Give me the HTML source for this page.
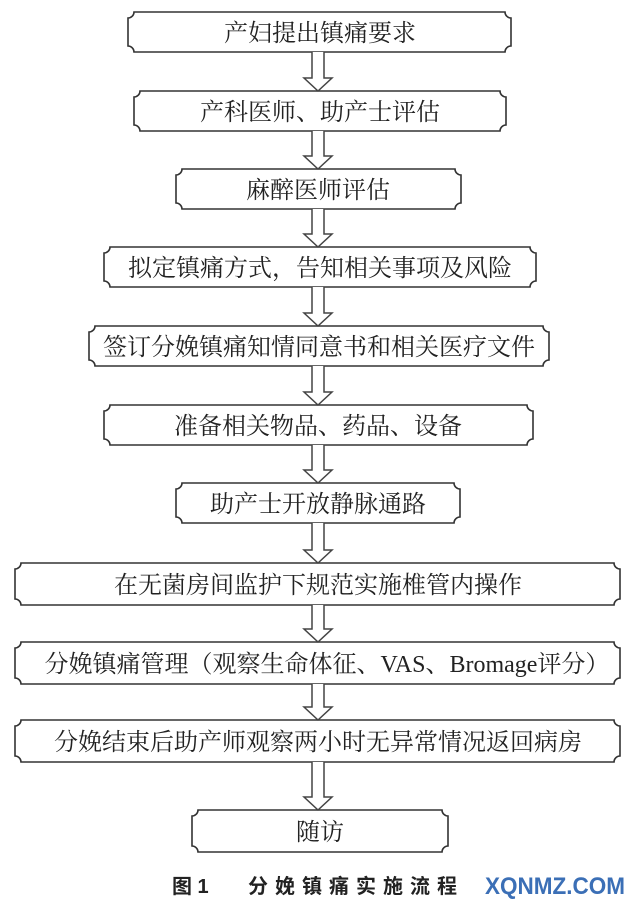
<!DOCTYPE html>
<html><head><meta charset="utf-8"><style>
html,body{margin:0;padding:0;background:#fff;}
svg{display:block}
.t{font-family:"Liberation Serif","Noto Serif CJK SC",serif;font-size:24px;fill:#222;text-anchor:middle;}
</style></head><body>
<svg width="637" height="907" viewBox="0 0 637 907" xmlns="http://www.w3.org/2000/svg">
<g fill="none" stroke="#333" stroke-width="1.6">
<path d="M134,12 H505 A6,6 0 0 0 511,18 V46 A6,6 0 0 0 505,52 H134 A6,6 0 0 0 128,46 V18 A6,6 0 0 0 134,12Z"/>
<path d="M140,91 H500 A6,6 0 0 0 506,97 V125 A6,6 0 0 0 500,131 H140 A6,6 0 0 0 134,125 V97 A6,6 0 0 0 140,91Z"/>
<path d="M182,169 H455 A6,6 0 0 0 461,175 V203 A6,6 0 0 0 455,209 H182 A6,6 0 0 0 176,203 V175 A6,6 0 0 0 182,169Z"/>
<path d="M110,247 H530 A6,6 0 0 0 536,253 V281 A6,6 0 0 0 530,287 H110 A6,6 0 0 0 104,281 V253 A6,6 0 0 0 110,247Z"/>
<path d="M95,326 H543 A6,6 0 0 0 549,332 V360 A6,6 0 0 0 543,366 H95 A6,6 0 0 0 89,360 V332 A6,6 0 0 0 95,326Z"/>
<path d="M110,405 H527 A6,6 0 0 0 533,411 V439 A6,6 0 0 0 527,445 H110 A6,6 0 0 0 104,439 V411 A6,6 0 0 0 110,405Z"/>
<path d="M182,483 H454 A6,6 0 0 0 460,489 V517 A6,6 0 0 0 454,523 H182 A6,6 0 0 0 176,517 V489 A6,6 0 0 0 182,483Z"/>
<path d="M21,563 H614 A6,6 0 0 0 620,569 V599 A6,6 0 0 0 614,605 H21 A6,6 0 0 0 15,599 V569 A6,6 0 0 0 21,563Z"/>
<path d="M21,642 H614 A6,6 0 0 0 620,648 V678 A6,6 0 0 0 614,684 H21 A6,6 0 0 0 15,678 V648 A6,6 0 0 0 21,642Z"/>
<path d="M21,720 H614 A6,6 0 0 0 620,726 V756 A6,6 0 0 0 614,762 H21 A6,6 0 0 0 15,756 V726 A6,6 0 0 0 21,720Z"/>
<path d="M198,810 H442 A6,6 0 0 0 448,816 V846 A6,6 0 0 0 442,852 H198 A6,6 0 0 0 192,846 V816 A6,6 0 0 0 198,810Z"/>
</g>
<g fill="#fff" stroke="#444" stroke-width="1.5">
<path d="M312,52 V78 H304 L318,91 L332,78 H324 V52"/>
<path d="M312,131 V156 H304 L318,169 L332,156 H324 V131"/>
<path d="M312,209 V234 H304 L318,247 L332,234 H324 V209"/>
<path d="M312,287 V313 H304 L318,326 L332,313 H324 V287"/>
<path d="M312,366 V392 H304 L318,405 L332,392 H324 V366"/>
<path d="M312,445 V470 H304 L318,483 L332,470 H324 V445"/>
<path d="M312,523 V550 H304 L318,563 L332,550 H324 V523"/>
<path d="M312,605 V629 H304 L318,642 L332,629 H324 V605"/>
<path d="M312,684 V707 H304 L318,720 L332,707 H324 V684"/>
<path d="M312,762 V797 H304 L318,810 L332,797 H324 V762"/>
</g>
<text class="t" x="320" y="41">产妇提出镇痛要求</text>
<text class="t" x="320" y="120">产科医师、助产士评估</text>
<text class="t" x="318" y="198">麻醉医师评估</text>
<text class="t" x="320" y="276">拟定镇痛方式，告知相关事项及风险</text>
<text class="t" x="319" y="355">签订分娩镇痛知情同意书和相关医疗文件</text>
<text class="t" x="318" y="434">准备相关物品、药品、设备</text>
<text class="t" x="318" y="512">助产士开放静脉通路</text>
<text class="t" x="318" y="593">在无菌房间监护下规范实施椎管内操作</text>
<text class="t" x="327" y="672">分娩镇痛管理（观察生命体征、VAS、Bromage评分）</text>
<text class="t" x="318" y="750">分娩结束后助产师观察两小时无异常情况返回病房</text>
<text class="t" x="320" y="840">随访</text>
<text x="172" y="893" style="font-family:'Liberation Sans','Noto Sans CJK SC',sans-serif;font-size:20px;font-weight:bold;fill:#222">图 1</text>
<text x="248" y="893" style="font-family:'Liberation Sans','Noto Sans CJK SC',sans-serif;font-size:20px;font-weight:bold;fill:#222;letter-spacing:7px">分娩镇痛实施流程</text>
<text x="485" y="894" style="font-family:'Liberation Sans',sans-serif;font-size:24px;font-weight:bold;fill:#3b6fb6" textLength="140" lengthAdjust="spacingAndGlyphs">XQNMZ.COM</text>
</svg>
</body></html>
